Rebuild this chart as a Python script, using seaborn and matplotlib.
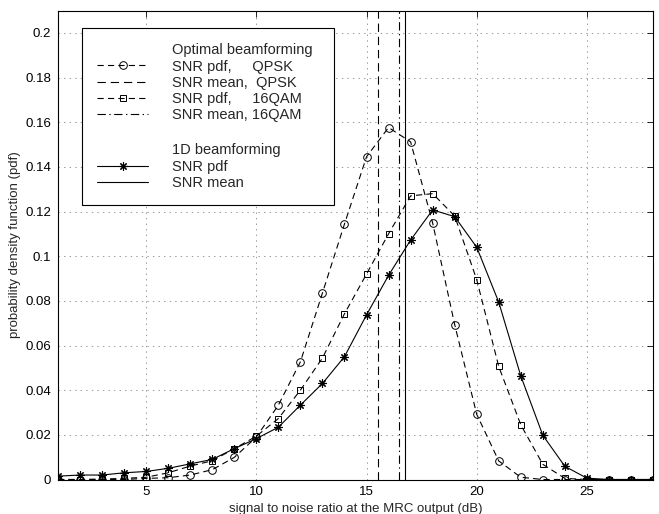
import matplotlib
matplotlib.use("Agg")
import matplotlib.pyplot as plt
from matplotlib.lines import Line2D
from matplotlib.ticker import FuncFormatter
import seaborn as sns

# ---- data ----
snr_db = list(range(1, 29))
pdf_qpsk = [0, 0, 0, 0, 0.0005, 0.0008, 0.002, 0.0044, 0.0099, 0.019,
            0.0333, 0.0527, 0.0835, 0.1144, 0.1445, 0.1576, 0.1512, 0.1149,
            0.0694, 0.0292, 0.0083, 0.001, 0, 0, 0, 0, 0, 0]
pdf_16qam = [0, 0, 0.0002, 0.0005, 0.001, 0.003, 0.006, 0.0084, 0.0138, 0.0194,
             0.0273, 0.040, 0.0544, 0.0742, 0.0920, 0.110, 0.127, 0.128,
             0.118, 0.0895, 0.0506, 0.0245, 0.0068, 0.0005, 0, 0, 0, 0]
pdf_1d = [0.0015, 0.002, 0.002, 0.003, 0.0036, 0.005, 0.007, 0.009, 0.0138, 0.0183,
          0.0234, 0.0333, 0.043, 0.055, 0.0737, 0.0914, 0.1072, 0.1207,
          0.1177, 0.104, 0.0794, 0.0464, 0.0198, 0.0059, 0.0006, 0, 0, 0]
mean_qpsk = 15.5
mean_16qam = 16.47
mean_1d = 16.73
x_ticks = [5, 10, 15, 20, 25]
y_ticks = [0, 0.02, 0.04, 0.06, 0.08, 0.1, 0.12, 0.14, 0.16, 0.18, 0.2]

sns.set_style("white")
plt.rcParams["font.family"] = ["Liberation Sans", "DejaVu Sans"]
plt.rcParams["lines.scale_dashes"] = False

W, H = 659, 514
L, R, T, B = 58, 653, 10.5, 479.5
fig = plt.figure(figsize=(W / 100, H / 100), dpi=100)
ax = fig.add_axes([L / W, 1 - B / H, (R - L) / W, (B - T) / H])

dash = (0, (4.5, 3.0))
mean_dash = (0, (6, 3.5))
mean_dashdot = (0, (6, 2.5, 1, 2.5))
lw = 0.8
ms = 5.5
star = (8, 2, 0)

sns.lineplot(x=snr_db, y=pdf_qpsk, ax=ax, color="black", linewidth=lw,
             linestyle=dash, marker="o", markersize=ms, markerfacecolor="none",
             markeredgecolor="black", markeredgewidth=0.7)
sns.lineplot(x=snr_db, y=pdf_16qam, ax=ax, color="black", linewidth=lw,
             linestyle=dash, marker="s", markersize=ms - 0.5, markerfacecolor="none",
             markeredgecolor="black", markeredgewidth=0.7)
sns.lineplot(x=snr_db, y=pdf_1d, ax=ax, color="black", linewidth=lw,
             linestyle="-", marker=star, markersize=ms + 0.5,
             markeredgecolor="black", markeredgewidth=0.8)

ax.axvline(mean_qpsk, color="black", linewidth=lw, linestyle=mean_dash)
ax.axvline(mean_16qam, color="black", linewidth=lw, linestyle=mean_dashdot)
ax.axvline(mean_1d, color="black", linewidth=lw, linestyle="-")

ax.set_xlim(1, 28)
ax.set_ylim(0, 0.21)
ax.set_xticks(x_ticks)
ax.set_yticks(y_ticks)
ax.yaxis.set_major_formatter(FuncFormatter(lambda v, p: f"{v:g}"))
ax.tick_params(direction="in", top=True, right=True, length=4, width=0.6,
               labelsize=9.5, pad=5, colors="black")
ax.grid(True, linestyle=(0, (1, 3)), color="#888888", linewidth=0.6)
for s in ax.spines.values():
    s.set_color("black")
    s.set_linewidth(0.8)

ax.set_xlabel("signal to noise ratio at the MRC output (dB)", fontsize=9.5, labelpad=3)
ax.set_ylabel("probability density function (pdf)", fontsize=9.5, labelpad=3)

# ---- legend ----
blank = Line2D([], [], linestyle="none")
handles = [
    blank,
    Line2D([], [], color="black", lw=lw, linestyle=dash, marker="o", markersize=ms,
           markerfacecolor="none", markeredgewidth=0.7),
    Line2D([], [], color="black", lw=lw, linestyle=mean_dash),
    Line2D([], [], color="black", lw=lw, linestyle=dash, marker="s", markersize=ms - 0.5,
           markerfacecolor="none", markeredgewidth=0.7),
    Line2D([], [], color="black", lw=lw, linestyle=mean_dashdot),
    blank,
    blank,
    Line2D([], [], color="black", lw=lw, linestyle="-", marker=star, markersize=ms + 0.5,
           markeredgewidth=0.8),
    Line2D([], [], color="black", lw=lw, linestyle="-"),
]
labels = [
    "Optimal beamforming",
    "SNR pdf,     QPSK",
    "SNR mean,  QPSK",
    "SNR pdf,     16QAM",
    "SNR mean, 16QAM",
    " ",
    "1D beamforming",
    "SNR pdf",
    "SNR mean",
]
lx0 = (82 - L) / (R - L)
lx1 = (334 - L) / (R - L)
ly1 = (B - 28) / (B - T)
leg = ax.legend(handles, labels, loc="upper left",
                bbox_to_anchor=(lx0, ly1 - 0.4, lx1 - lx0, 0.4), mode="expand",
                fontsize=10.5, frameon=True, fancybox=False, handlelength=3.5,
                handletextpad=1.6, labelspacing=0.15, borderpad=1.05,
                borderaxespad=0, edgecolor="black")
leg.get_frame().set_linewidth(0.8)
leg.get_frame().set_alpha(1)
leg.get_texts()[5].set_fontsize(14)

fig.savefig("out.png", dpi=100)
